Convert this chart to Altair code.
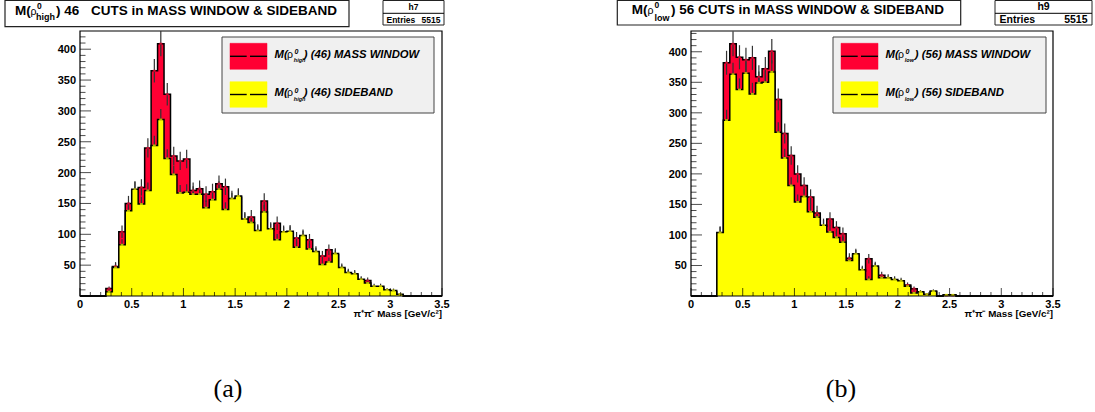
import math
import altair as alt
import pandas as pd

# Binning: 56 bins of 0.0625 GeV/c^2 spanning [0, 3.5]; first filled bin starts at 0.25
BIN_W = 0.0625
N_BINS = 56
FIRST_BIN = 4
X_MAX = 3.5

# (a) M(rho0_high), 46 cuts: entries per bin from 0.25 upward
a_window = [12, 48, 104, 150, 172, 176, 240, 365, 409, 327, 227, 219, 222, 171, 174,
            165, 169, 182, 177, 155, 160, 123, 128, 104, 154, 107, 118, 102, 103, 94,
            96, 91, 70, 65, 75, 67, 44, 36, 34, 25, 25, 14, 14, 8, 7, 2]
a_side = [7, 46, 83, 138, 173, 149, 171, 244, 286, 223, 197, 167, 168, 165, 165,
          143, 156, 173, 140, 158, 162, 125, 119, 106, 136, 109, 91, 104, 105, 79,
          98, 76, 72, 51, 55, 69, 46, 38, 36, 27, 21, 16, 16, 10, 9, 3]

# (b) M(rho0_low), 56 cuts
b_window = [103, 382, 413, 391, 387, 390, 359, 372, 401, 322, 266, 230, 200, 181, 162,
            136, 114, 126, 112, 102, 62, 67, 41, 61, 47, 34, 28, 25, 23, 18,
            12, 6, 2, 7, 0, 1, 1]
b_side = [104, 288, 363, 338, 365, 331, 349, 350, 367, 268, 226, 181, 154, 163, 138,
          129, 116, 105, 96, 88, 58, 69, 43, 27, 49, 30, 30, 27, 25, 16,
          5, 7, 3, 8, 0, 2, 2]

A_YMAX = 429.5
B_YMAX = 434.0

x_label_pos = [0, 0.5, 1, 1.5, 2, 2.5, 3, 3.5]
x_label_txt = ["0", "0.5", "1", "1.5", "2", "2.5", "3", "3.5"]
y_label_pos = [50, 100, 150, 200, 250, 300, 350, 400]

RED = "#ff0033"
YELLOW = "#ffff00"
FONT = "Liberation Sans"
SERIF = "Liberation Serif"

# the shared view's origin on the page; decorations are given in page pixels
OX, OY = 80, 31
ONE = pd.DataFrame({"k": [0]})


def counts(vals):
    c = [0] * N_BINS
    for i, v in enumerate(vals):
        c[FIRST_BIN + i] = v
    return c


def step_frame(vals):
    c = counts(vals)
    xs = [k * BIN_W for k in range(N_BINS)] + [N_BINS * BIN_W]
    return pd.DataFrame({"x": xs, "n": c + [0]})


def err_frame(vals):
    rows = []
    for k, v in enumerate(counts(vals)):
        if v > 0:
            e = math.sqrt(v)
            rows.append({"c": (k + 0.5) * BIN_W, "n": v, "lo": v - e, "hi": v + e})
    return pd.DataFrame(rows)


def box(x0, y0, x1, y1, fill, stroke, sw):
    return alt.Chart(ONE).mark_rect(fill=fill, stroke=stroke, strokeWidth=sw).encode(
        x=alt.value(x0 - OX), x2=alt.value(x1 - OX),
        y=alt.value(y0 - OY), y2=alt.value(y1 - OY))


def hline(x0, x1, y, sw, color="black"):
    return alt.Chart(ONE).mark_rule(color=color, strokeWidth=sw).encode(
        x=alt.value(x0 - OX), x2=alt.value(x1 - OX), y=alt.value(y - OY))


def label(txt, x, y, size, weight="bold", style="normal", align="left", font=FONT):
    return alt.Chart(ONE).mark_text(
        text=txt, align=align, baseline="alphabetic", fontSize=size,
        fontWeight=weight, fontStyle=style, font=font, color="black").encode(
        x=alt.value(x - OX), y=alt.value(y - OY))


def histo_panel(window, side, ymax, x_range):
    xs = alt.Scale(domain=[0, X_MAX], range=x_range, nice=False, zero=False)
    ys = alt.Scale(domain=[0, ymax], nice=False, zero=False)

    def X(f):
        return alt.X(f, type="quantitative", scale=xs, axis=None)

    def Y(f):
        return alt.Y(f, type="quantitative", scale=ys, axis=None)

    def XD(v):
        return alt.XDatum(v, type="quantitative", scale=xs, axis=None)

    def YD(v):
        return alt.YDatum(v, type="quantitative", scale=ys, axis=None)

    red_step = step_frame(window)
    yel_step = step_frame(side)
    red_err = err_frame(window)
    yel_err = err_frame(side)
    errs = pd.concat([red_err, yel_err], ignore_index=True)

    red_area = alt.Chart(red_step).mark_area(interpolate="step-after", color=RED).encode(
        x=X("x"), y=Y("n"))
    red_line = alt.Chart(red_step).mark_line(
        interpolate="step-after", color="black", strokeWidth=1.5).encode(x=X("x"), y=Y("n"))
    red_mark = alt.Chart(red_err).mark_tick(
        orient="horizontal", size=3, thickness=2, color=RED).encode(x=X("c"), y=Y("n"))
    err_bars = alt.Chart(errs).mark_rule(color="#333333", strokeWidth=1.2).encode(
        x=X("c"), y=Y("lo"), y2=alt.Y2("hi"))
    yel_area = alt.Chart(yel_step).mark_area(interpolate="step-after", color=YELLOW).encode(
        x=X("x"), y=Y("n"))
    yel_line = alt.Chart(yel_step).mark_line(
        interpolate="step-after", color="black", strokeWidth=1.5).encode(x=X("x"), y=Y("n"))
    yel_mark = alt.Chart(yel_err).mark_tick(
        orient="horizontal", size=3, thickness=2, color=YELLOW).encode(x=X("c"), y=Y("n"))

    # axis ticks point into the frame, ROOT style
    y_major = pd.DataFrame({"v": [v for v in range(50, int(ymax) + 1, 50)]})
    y_minor = pd.DataFrame({"v": [v for v in range(10, int(ymax) + 1, 10) if v % 50]})
    x_major = pd.DataFrame({"v": x_label_pos})
    x_minor = pd.DataFrame({"v": [round(i * 0.1, 1) for i in range(36) if i % 5]})

    ytm = alt.Chart(y_major).mark_tick(
        orient="horizontal", size=11, thickness=1, xOffset=5.5, color="black").encode(
        x=XD(0), y=Y("v"))
    ytn = alt.Chart(y_minor).mark_tick(
        orient="horizontal", size=5.5, thickness=1, xOffset=2.75, color="black").encode(
        x=XD(0), y=Y("v"))
    xtm = alt.Chart(x_major).mark_tick(
        orient="vertical", size=8, thickness=1, yOffset=-4, color="black").encode(
        x=X("v"), y=YD(0))
    xtn = alt.Chart(x_minor).mark_tick(
        orient="vertical", size=4, thickness=1, yOffset=-2, color="black").encode(
        x=X("v"), y=YD(0))

    ylab = alt.Chart(pd.DataFrame({"v": y_label_pos, "t": [str(v) for v in y_label_pos]})).mark_text(
        align="right", baseline="middle", dx=-4, dy=1, font=FONT, fontWeight="bold",
        fontSize=11, color="black").encode(x=XD(0), y=Y("v"), text=alt.Text("t:N"))
    xlab = alt.Chart(pd.DataFrame({"v": x_label_pos, "t": x_label_txt})).mark_text(
        align="center", baseline="alphabetic", dy=11.7, font=FONT, fontWeight="bold",
        fontSize=11, color="black").encode(x=X("v"), y=YD(0), text=alt.Text("t:N"))
    xtitle = alt.Chart(ONE).mark_text(
        text="\u03c0\u207a\u03c0\u207b Mass [GeV/c\u00b2]", align="right", baseline="alphabetic",
        dy=21.3, font=FONT, fontWeight="bold", fontSize=9.8, color="black").encode(
        x=XD(X_MAX), y=YD(0))

    frame = alt.Chart(ONE).mark_rect(fillOpacity=0, stroke="black", strokeWidth=1.2).encode(
        x=XD(0), x2=alt.X2Datum(X_MAX), y=YD(0), y2=alt.Y2Datum(ymax))

    return [red_area, red_line, err_bars, red_mark, yel_area, yel_line, yel_mark,
            ytn, ytm, xtn, xtm, ylab, xlab, xtitle, frame]


def decorations(p):
    """Title box, stats box, legend and caption of one panel (page pixels)."""
    layers = []
    # title
    layers.append(box(p["tx0"], 0.5, p["tx1"], p["ty1"], "white", "#222222", 1.2))
    layers.append(label("M(", p["t_m"], p["t_base"], 13.5))
    layers.append(label("\u03c1", p["t_rho"], p["t_base"], 10.5, weight="normal"))
    layers.append(label("0", p["t_sup"], p["t_supb"], 8.5))
    layers.append(label(p["sub"], p["t_sub"], p["t_subb"], 9))
    for txt, x in p["t_rest"]:
        layers.append(label(txt, x, p["t_base"], 13.5))
    # stats box
    layers.append(box(p["sx0"], 0.5, p["sx1"], 25, "white", "#222222", 1))
    layers.append(hline(p["sx0"], p["sx1"], 13.3, 1))
    layers.append(label(p["hname"], (p["sx0"] + p["sx1"]) / 2, 9.8, p["s_fs"], align="center"))
    layers.append(label("Entries", p["sx0"] + p["s_pad"], 22.5, p["s_fs"]))
    layers.append(label("5515", p["sx1"] - p["s_pad"], 22.5, p["s_fs"], align="right"))
    # legend
    layers.append(box(p["lx0"], 37, p["lx1"], 113, "#f0f0f0", "#444444", 1))
    sw0 = p["lx0"] + 8
    sw1 = sw0 + 37
    for (fill, y0, y1, base, rest) in [(RED, 43.3, 69.3, 57.7, p["l_rest1"]),
                                       (YELLOW, 81.7, 107.3, 96.0, p["l_rest2"])]:
        layers.append(box(sw0, y0, sw1, y1, fill, fill, 0.5))
        mid = (y0 + y1) / 2
        layers.append(hline(sw0, sw0 + 16.7, mid, 1.4))
        layers.append(hline(sw0 + 20, sw1, mid, 1.4))
        lx = sw1 + 7.5
        layers.append(label("M(", lx, base, 11.3, style="italic"))
        layers.append(label("\u03c1", lx + 12.5, base, 10.5, weight="normal"))
        layers.append(label("0", lx + 20, base - 3.4, 7, style="italic"))
        layers.append(label(p["sub"], lx + 19.3, base + 4.6, 5.5, style="italic"))
        layers.append(label(rest, lx + 29.3, base, 11.3, style="italic"))
    # caption
    layers.append(label(p["cap"], p["cap_x"], 397, 26, weight="normal", align="center", font=SERIF))
    return layers


a_deco = dict(
    tx0=5, tx1=349, ty1=26.7, t_base=14.7, t_m=15, t_rho=30.5, t_sup=37, t_supb=9.3,
    t_sub=36, t_subb=19.6, sub="high",
    t_rest=[(") 46", 56), ("CUTS in MASS WINDOW & SIDEBAND", 91)],
    sx0=383, sx1=444, s_fs=8.5, s_pad=3.5, hname="h7",
    lx0=222, lx1=434,
    l_rest1=") (46) MASS WINDOW", l_rest2=") (46) SIDEBAND",
    cap="(a)", cap_x=228,
)
b_deco = dict(
    tx0=617.3, tx1=960.7, ty1=25, t_base=13.8, t_m=631.7, t_rho=647.5, t_sup=654.5, t_supb=7.8,
    t_sub=654.5, t_subb=21, sub="low",
    t_rest=[(") 56 CUTS in MASS WINDOW & SIDEBAND", 671)],
    sx0=995, sx1=1092, s_fs=10.5, s_pad=4.5, hname="h9",
    lx0=833, lx1=1046,
    l_rest1=") (56) MASS WINDOW", l_rest2=") (56) SIDEBAND",
    cap="(b)", cap_x=841,
)

left = alt.layer(*histo_panel(a_window, a_side, A_YMAX, [0, 362]), *decorations(a_deco))
right = alt.layer(*histo_panel(b_window, b_side, B_YMAX, [611, 973]), *decorations(b_deco))

chart = alt.layer(left, right).resolve_scale(x="independent", y="independent").properties(
    width=973, height=265,
    autosize=alt.AutoSizeParams(type="none"),
    padding={"left": OX, "top": OY, "right": 1095 - OX - 973, "bottom": 412 - OY - 265},
    background="white",
).configure_view(stroke="transparent")

chart.save("out.html", embed_options={"renderer": "svg", "actions": False})
